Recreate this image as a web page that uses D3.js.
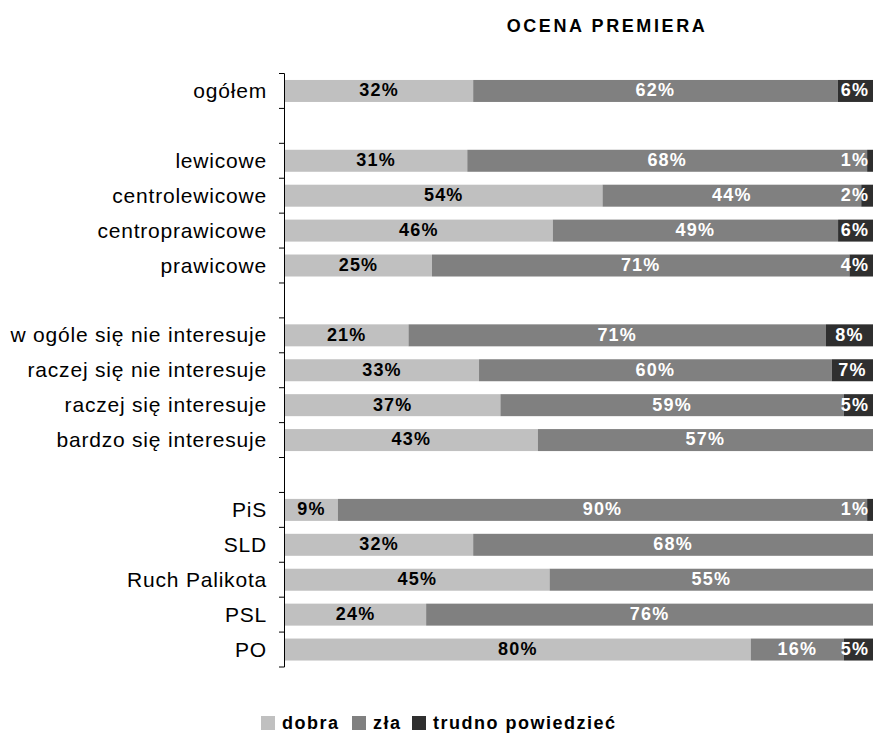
<!DOCTYPE html>
<html>
<head>
<meta charset="utf-8">
<script src="https://cdn.jsdelivr.net/npm/d3@7"></script>
<style>
  body { margin: 0; background: #fff; }
  text { font-family: "Liberation Sans", Arial, sans-serif; }
</style>
</head>
<body>
<svg id="chart"></svg>
<script>
// rows, blanks are the gaps between groups
const categories = [
  'ogółem', '',
  'lewicowe', 'centrolewicowe', 'centroprawicowe', 'prawicowe', ' ',
  'w ogóle się nie interesuje', 'raczej się nie interesuje', 'raczej się interesuje', 'bardzo się interesuje', '  ',
  'PiS', 'SLD', 'Ruch Palikota', 'PSL', 'PO'
];
const dobra = [32, null, 31, 54, 46, 25, null, 21, 33, 37, 43, null, 9, 32, 45, 24, 80];
const zla = [62, null, 68, 44, 49, 71, null, 71, 60, 59, 57, null, 90, 68, 55, 76, 16];
const trudno = [6, null, 1, 2, 6, 4, null, 8, 7, 5, 0, null, 1, 0, 0, 0, 5];
const seriesNames = ['dobra', 'zła', 'trudno powiedzieć'];
const colors = ['#c0c0c0', '#808080', '#2f2f2f'];
const labelColors = ['#000', '#fff', '#fff'];

const W = 875, H = 733;
const margin = { top: 73.5, right: 2, bottom: 66, left: 285 };
const width = W - margin.left - margin.right;
const height = H - margin.top - margin.bottom;

const svg = d3.select('#chart').attr('width', W).attr('height', H);

svg.append('text')
    .attr('x', 607).attr('y', 32)
    .attr('text-anchor', 'middle')
    .style('font-size', '18px').style('font-weight', 'bold')
    .style('letter-spacing', '2.6px')
    .text('OCENA PREMIERA');

const g = svg.append('g')
    .attr('transform', `translate(${margin.left},${margin.top})`);

const y = d3.scaleBand()
    .domain(categories)
    .range([0, height])
    .paddingInner(0.37)
    .paddingOuter(0.185);

const x = d3.scaleLinear().domain([0, 1]).range([0, width]);

const rows = categories.map((c, i) => {
  const vals = [dobra[i], zla[i], trudno[i]];
  if (vals[0] === null) return null;
  const total = d3.sum(vals);
  let acc = 0;
  return vals.map((v, k) => {
    const seg = { cat: c, k, v, x0: acc / total, x1: (acc + v) / total };
    acc += v;
    return seg;
  });
}).filter(r => r);

const segs = rows.flat().filter(d => d.v > 0);

g.selectAll('.bar')
    .data(segs)
  .enter().append('rect')
    .attr('class', 'bar')
    .attr('x', d => x(d.x0))
    .attr('y', d => y(d.cat))
    .attr('width', d => x(d.x1) - x(d.x0))
    .attr('height', y.bandwidth())
    .style('fill', d => colors[d.k]);

g.selectAll('.lbl')
    .data(segs)
  .enter().append('text')
    .attr('class', 'lbl')
    .attr('x', d => Math.min((x(d.x0) + x(d.x1)) / 2, width - 18))
    .attr('y', d => y(d.cat) + y.bandwidth() / 2)
    .attr('dy', '0.3em')
    .attr('text-anchor', 'middle')
    .style('font-size', '18px').style('font-weight', 'bold')
    .style('letter-spacing', '1.2px')
    .style('fill', d => labelColors[d.k])
    .text(d => d.v + '%');

// left axis: ticks on band boundaries
const axis = g.append('g');
axis.append('line')
    .attr('x1', -0.5).attr('x2', -0.5)
    .attr('y1', 0).attr('y2', height)
    .style('stroke', '#000');
const step = y.step();
d3.range(categories.length + 1).forEach(i => {
  axis.append('line')
      .attr('x1', -6).attr('x2', -0.5)
      .attr('y1', i * step).attr('y2', i * step)
      .style('stroke', '#000');
});
axis.selectAll('.cat')
    .data(categories.filter(c => c.trim()))
  .enter().append('text')
    .attr('x', -18)
    .attr('y', d => y(d) + y.bandwidth() / 2)
    .attr('dy', '0.34em')
    .attr('text-anchor', 'end')
    .style('font-size', '21px')
    .style('letter-spacing', '0.8px')
    .text(d => d);

// legend
const legendX = [261, 352, 412];
const legend = svg.append('g');
seriesNames.forEach((n, i) => {
  legend.append('rect')
      .attr('x', legendX[i]).attr('y', 716)
      .attr('width', 14).attr('height', 14)
      .style('fill', colors[i]);
  legend.append('text')
      .attr('x', legendX[i] + 21).attr('y', 729)
      .style('font-size', '18px').style('font-weight', 'bold')
      .style('letter-spacing', '1.5px')
      .text(n);
});
</script>
</body>
</html>
